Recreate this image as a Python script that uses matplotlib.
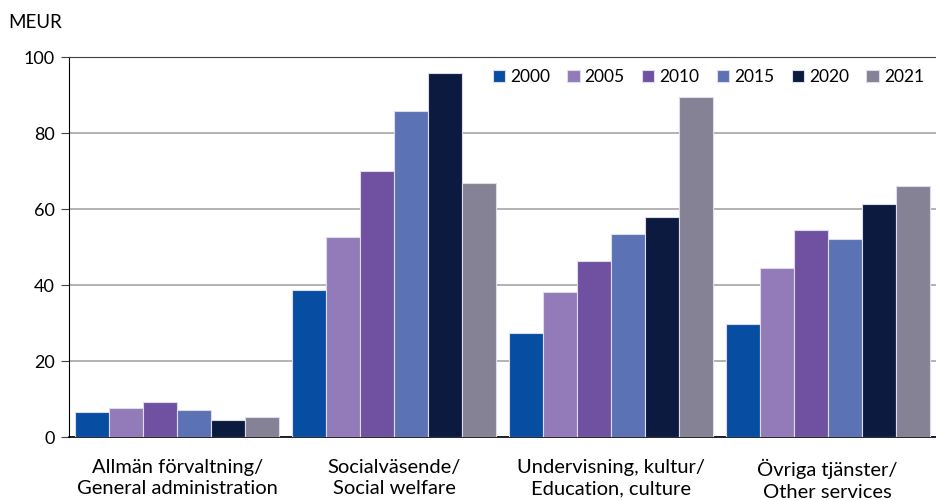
import numpy as np
import matplotlib.pyplot as plt

plt.rcParams['font.family'] = ['Lato', 'DejaVu Sans']

categories = ["Allmän förvaltning/\nGeneral administration",
              "Socialväsende/\nSocial welfare",
              "Undervisning, kultur/\nEducation, culture",
              "Övriga tjänster/\nOther services"]
years = ["2000", "2005", "2010", "2015", "2020", "2021"]

v2000 = [6.6, 38.7, 27.4, 29.8]
v2005 = [7.7, 52.6, 38.2, 44.5]
v2010 = [9.3, 70.0, 46.3, 54.5]
v2015 = [7.1, 85.7, 53.3, 52.0]
v2020 = [4.6, 95.8, 58.0, 61.4]
v2021 = [5.2, 66.8, 89.6, 66.1]
series = [v2000, v2005, v2010, v2015, v2020, v2021]

colors = ["#074ea3", "#927bb8", "#7050a0", "#5b72b5", "#0c1a40", "#858296"]

fig = plt.figure(figsize=(9.36, 5.0), dpi=100)
ax = fig.add_axes([0.0737, 0.126, 0.9263, 0.76])

x = np.arange(len(categories))
w = 0.157
for i, vals in enumerate(series):
    ax.bar(x + (i - 2.5) * w, vals, width=w, color=colors[i],
           edgecolor="#dcdcec", linewidth=0.8, label=years[i], zorder=3)

ax.set_xlim(-0.5, 3.5)
ax.set_ylim(0, 100)
ax.set_yticks(range(0, 101, 20))
ax.yaxis.grid(True, color="#a6a6a6", linewidth=1.2, zorder=0)
ax.set_xticks(x)
ax.set_xticklabels(categories, fontsize=14.5, linespacing=1.3)
ax.tick_params(axis="x", length=0, pad=16)
ax.tick_params(axis="y", labelsize=13, length=6, direction="out", color="#404040", pad=4)

ax.spines["right"].set_visible(False)
ax.spines["top"].set_color("#404040")
ax.spines["left"].set_color("#000000")
ax.spines["bottom"].set_color("#000000")
ax.spines["bottom"].set_linewidth(1.2)

fig.text(0.009, 0.955, "MEUR", fontsize=13.5, va="center", ha="left")

leg = ax.legend(loc="upper right", ncol=6, frameon=False, fontsize=12.5,
                handlelength=0.7, handleheight=0.7, handletextpad=0.3,
                columnspacing=1.0, bbox_to_anchor=(1.0, 1.0), borderaxespad=0.3)

fig.savefig("out.png", dpi=100)
